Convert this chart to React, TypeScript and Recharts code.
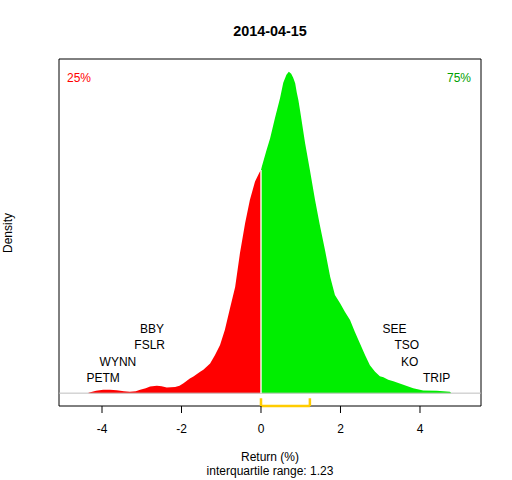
import React from 'react';
import {
  Area,
  ComposedChart,
  ReferenceArea,
  ReferenceLine,
  Scatter,
  XAxis,
  YAxis
} from 'recharts';

// density estimate of daily returns
const returnGrid = [
  -4.34, -4.15, -3.97, -3.8, -3.63, -3.45, -3.3, -3.15, -3.04, -2.9, -2.79, -2.62, -2.5, -2.37,
  -2.16, -2.05, -1.95, -1.79, -1.7, -1.53, -1.45, -1.28, -1.16, -1.03, -0.91, -0.78, -0.65,
  -0.53, -0.4, -0.28, -0.15, -0.04, 0, 0.02, 0.14, 0.23, 0.35, 0.48, 0.56, 0.64, 0.7, 0.76,
  0.81, 0.86, 0.9, 0.94, 0.98, 1.11, 1.23, 1.36, 1.48, 1.61, 1.74, 1.86, 1.99, 2.11, 2.24,
  2.36, 2.49, 2.62, 2.74, 2.87, 2.99, 3.08, 3.2, 3.33, 3.58, 3.83, 4.08, 4.42, 4.75, 4.78
];
const densityValues = [
  0.0007, 0.0036, 0.0048, 0.0048, 0.0043, 0.0029, 0.0019, 0.0029, 0.0048, 0.0072, 0.0097,
  0.0105, 0.0098, 0.0082, 0.0087, 0.0108, 0.0144, 0.0212, 0.0241, 0.0307, 0.0336, 0.0429,
  0.0548, 0.0693, 0.0909, 0.1223, 0.153, 0.2016, 0.2449, 0.2786, 0.305, 0.318, 0.3219,
  0.3266, 0.3507, 0.3676, 0.3965, 0.4254, 0.4475, 0.459, 0.4633, 0.4605, 0.4547, 0.447,
  0.4335, 0.4227, 0.4085, 0.3604, 0.3219, 0.2786, 0.2425, 0.2064, 0.1679, 0.1415, 0.1295,
  0.1174, 0.1054, 0.0885, 0.0717, 0.0548, 0.0404, 0.0307, 0.0245, 0.0231, 0.0195, 0.0173,
  0.012, 0.0072, 0.0039, 0.0033, 0.0019, 0.0005
];

// tickers of the biggest movers on each side
const loserNames = ['BBY', 'FSLR', 'WYNN', 'PETM'];
const loserReturns = [-2.74, -2.8, -3.6, -3.97];
const gainerNames = ['SEE', 'TSO', 'KO', 'TRIP'];
const gainerReturns = [3.36, 3.67, 3.74, 4.42];
const labelHeights = [0.093, 0.07, 0.046, 0.023];

const xTicks = [-4, -2, 0, 2, 4];
const xDomain = [-5.082, 5.535];
const yDomain = [-0.01853, 0.4818];
const iqrStart = 0;
const iqrEnd = 1.23;
const splitDensity = 0.3219;

const font = '"Liberation Sans", Arial, sans-serif';

const points = returnGrid.map((x, i) => ({ x, d: densityValues[i] }));
const lowerPart = points.filter(p => p.x <= 0);
const upperPart = points.filter(p => p.x >= 0);
const tickerLabels = [
  ...loserNames.map((name, i) => ({ name, x: loserReturns[i], d: labelHeights[i] })),
  ...gainerNames.map((name, i) => ({ name, x: gainerReturns[i], d: labelHeights[i] }))
];

const TickerLabel = (props: any) => (
  <text
    x={props.cx}
    y={props.cy + 4.6}
    textAnchor="middle"
    fontSize={12}
    fontFamily={font}
    fill="#000"
  >
    {props.payload.name}
  </text>
);

const App: React.FC = () => {
  return (
    <div style={{ position: 'fixed', left: 0, top: 0, width: 512, height: 480, background: '#fff' }}>
      <ComposedChart width={512} height={480} margin={{ top: 59, right: 31, left: 59, bottom: 44 }}>
        <XAxis
          type="number"
          dataKey="x"
          domain={xDomain}
          ticks={xTicks}
          allowDataOverflow
          axisLine={false}
          tickLine={{ stroke: '#000' }}
          tickSize={7}
          tickMargin={11}
          tick={{ fill: '#000', fontSize: 12, fontFamily: font }}
          height={30}
        />
        <YAxis type="number" domain={yDomain} allowDataOverflow hide />
        <ReferenceLine y={0} stroke="#BEBEBE" strokeWidth={1} />
        <Area
          data={lowerPart}
          dataKey="d"
          type="linear"
          baseValue={0}
          fill="#FF0000"
          fillOpacity={1}
          stroke="none"
          isAnimationActive={false}
        />
        <Area
          data={upperPart}
          dataKey="d"
          type="linear"
          baseValue={0}
          fill="#00EE00"
          fillOpacity={1}
          stroke="none"
          isAnimationActive={false}
        />
        <ReferenceLine
          segment={[{ x: 0, y: 0 }, { x: 0, y: splitDensity }]}
          stroke="#FFFFFF"
          strokeWidth={1.4}
        />
        <Scatter data={tickerLabels} dataKey="d" shape={TickerLabel} isAnimationActive={false} />
        <ReferenceArea
          x1={xDomain[0]}
          x2={xDomain[1]}
          y1={yDomain[0]}
          y2={yDomain[1]}
          fill="none"
          stroke="#000"
          strokeWidth={1}
          ifOverflow="visible"
        />
        <ReferenceLine
          segment={[{ x: iqrStart, y: yDomain[0] }, { x: iqrEnd, y: yDomain[0] }]}
          stroke="#FFCC00"
          strokeWidth={2.5}
          ifOverflow="visible"
        />
        <ReferenceLine
          segment={[{ x: iqrStart, y: yDomain[0] }, { x: iqrStart, y: -0.0074 }]}
          stroke="#FFCC00"
          strokeWidth={2.5}
          ifOverflow="visible"
        />
        <ReferenceLine
          segment={[{ x: iqrEnd, y: yDomain[0] }, { x: iqrEnd, y: -0.0074 }]}
          stroke="#FFCC00"
          strokeWidth={2.5}
          ifOverflow="visible"
        />
        <text x={270} y={36} textAnchor="middle" fontSize={14.4} fontWeight="bold" fontFamily={font} fill="#000">
          2014-04-15
        </text>
        <text x={79} y={82.3} textAnchor="middle" fontSize={12} fontFamily={font} fill="#FF0000">
          25%
        </text>
        <text x={459} y={82.3} textAnchor="middle" fontSize={12} fontFamily={font} fill="#00A000">
          75%
        </text>
        <text
          x={12}
          y={233}
          textAnchor="middle"
          fontSize={12}
          fontFamily={font}
          fill="#000"
          transform="rotate(-90, 12, 233)"
        >
          Density
        </text>
        <text x={270} y={461} textAnchor="middle" fontSize={12} fontFamily={font} fill="#000">
          Return (%)
        </text>
        <text x={270} y={475} textAnchor="middle" fontSize={12} fontFamily={font} fill="#000">
          interquartile range: {iqrEnd}
        </text>
      </ComposedChart>
    </div>
  );
};

export default App;
